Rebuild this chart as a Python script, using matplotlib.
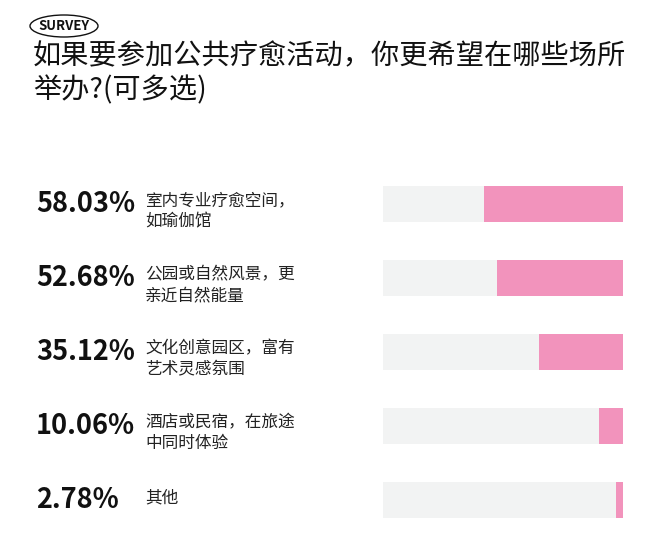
import matplotlib.pyplot as plt
import matplotlib.transforms as mtransforms
from matplotlib.patches import Ellipse

plt.rcParams['font.family'] = ['Noto Sans CJK SC', 'DejaVu Sans']

# data
labels = ['室内专业疗愈空间，\n如瑜伽馆', '公园或自然风景，更\n亲近自然能量',
          '文化创意园区，富有\n艺术灵感氛围', '酒店或民宿，在旅途\n中同时体验', '其他']
values = [58.03, 52.68, 35.12, 10.06, 2.78]
title = '如果要参加公共疗愈活动，你更希望在哪些场所\n举办?(可多选)'

W, H = 660, 550
fig = plt.figure(figsize=(W / 100, H / 100), dpi=100)
fig.patch.set_facecolor('white')

# bar area in pixel coords: x 383..623, y 167..537
ax = fig.add_axes([383 / W, 1 - 537 / H, 240 / W, 370 / H])
n = len(values)
ypos = list(range(n))
ax.barh(ypos, [100] * n, height=0.49, color='#f2f3f3', zorder=1)
ax.barh(ypos, values, left=[100 - v for v in values], height=0.49,
        color='#f293bc', zorder=2)
ax.set_xlim(0, 100)
ax.set_ylim(n - 0.5, -0.5)
ax.axis('off')

trans = mtransforms.blended_transform_factory(fig.transFigure, ax.transData)
for i, (v, lab) in enumerate(zip(values, labels)):
    ax.text(36 / W, i, f'{v:.2f}%', transform=trans, ha='left', va='center',
            fontsize=19.5, fontweight='bold', color='#111111')
    dy = 0.1 if '\n' in lab else -0.03
    ax.text(145 / W, i + dy, lab, transform=trans, ha='left', va='center',
            fontsize=12, color='#222222', linespacing=1.25)

# title
fig.text(33 / W, 1 - 41 / H, title, ha='left', va='top', fontsize=20.3,
         color='#111111', linespacing=1.18)

# SURVEY badge
badge = Ellipse((64 / W, 1 - 26 / H), 68 / W, 22 / H, transform=fig.transFigure,
                fill=False, edgecolor='#111111', linewidth=1.0)
fig.add_artist(badge)
fig.text(64 / W, 1 - 26 / H, 'SURVEY', ha='center', va='center', fontsize=9.5,
         fontweight='bold', color='#111111')

fig.savefig('out.png', dpi=100, facecolor='white')
